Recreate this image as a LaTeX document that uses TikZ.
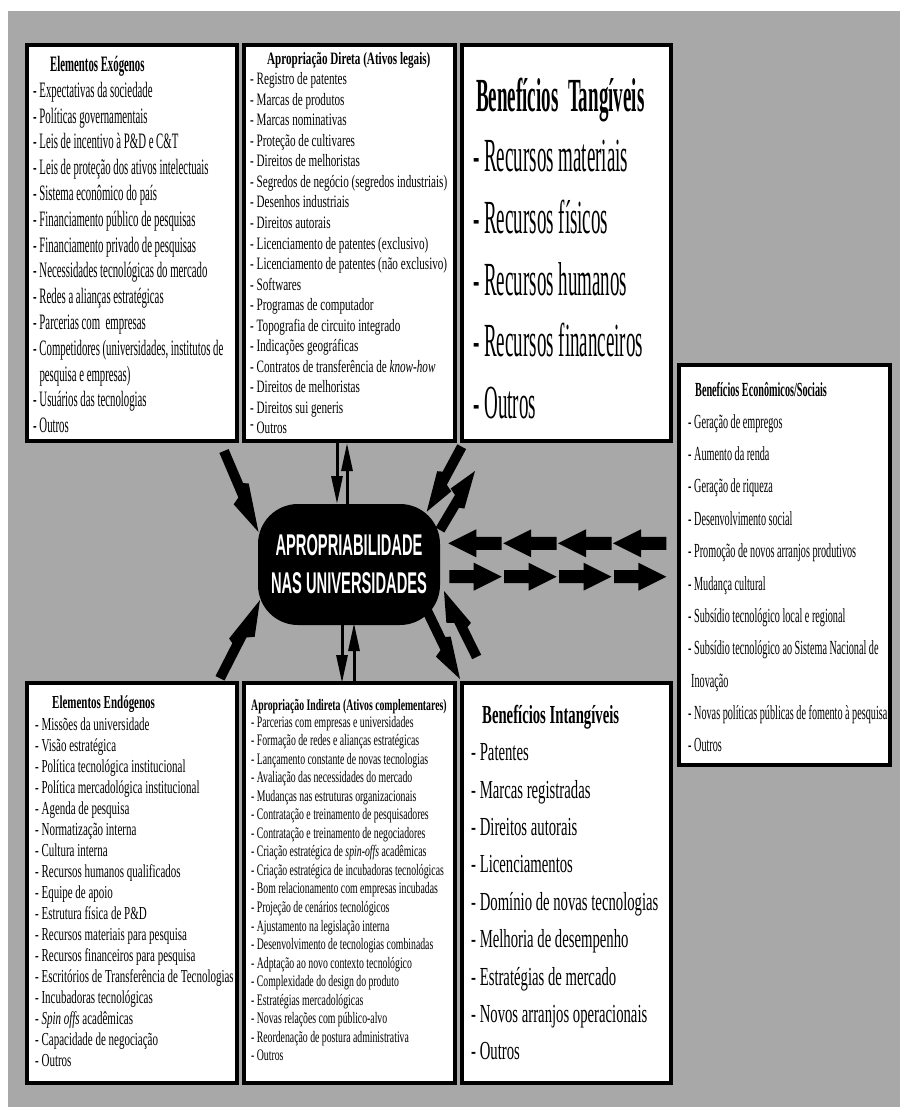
\documentclass[tikz,border=0pt]{standalone}
\usepackage{fontspec}
\setmainfont{Liberation Serif}
\newfontfamily\fExo{Liberation Serif}[FakeStretch=0.49]
\newfontfamily\fDir{Liberation Serif}[FakeStretch=0.64]
\newfontfamily\fTan{Liberation Serif}[FakeStretch=0.40]
\newfontfamily\fEco{Liberation Serif}[FakeStretch=0.51]
\newfontfamily\fEnd{Liberation Serif}[FakeStretch=0.60]
\newfontfamily\fInd{Liberation Serif}[FakeStretch=0.61]
\newfontfamily\fInt{Liberation Serif}[FakeStretch=0.566]
\newfontfamily\fCtr{Liberation Sans}[FakeStretch=0.49]
\usetikzlibrary{calc,arrows.meta}
\definecolor{bggray}{RGB}{168,168,168}
\tikzset{
  box/.style={draw=black, line width=4pt, fill=white, inner sep=0pt, outer sep=0pt},
  txt/.style={inner sep=0pt, anchor=base west},
  exof/.style={txt, font=\fExo\fontsize{22}{26}\selectfont},
  dirf/.style={txt, font=\fDir\fontsize{17.4}{20}\selectfont},
  tanf/.style={txt, font=\fTan\fontsize{47.5}{55}\selectfont},
  ecof/.style={txt, font=\fEco\fontsize{20}{24}\selectfont},
  endf/.style={txt, font=\fEnd\fontsize{18.3}{22}\selectfont},
  indf/.style={txt, font=\fInd\fontsize{16}{19}\selectfont},
  intf/.style={txt, font=\fInt\fontsize{26}{30}\selectfont},
  hub/.style={fill=black, rounded corners=40pt, inner sep=0pt, outer sep=0pt,
    text=white, align=center, font=\fCtr\bfseries\fontsize{30}{38}\selectfont},
  varrow/.style={line width=3pt, -{Triangle[length=28pt,width=11pt]}},
  boltfill/.style={fill=black},
}
% lightning-bolt arrow from #1 (tail) to #2 (tip);
% #3 = side of the later (barb) corner, #4 = the other side (90 / -90)
\newcommand\boltarr[4]{%
  \fill[boltfill] ($(#1)!5pt!#3:(#2)$) -- ($(#1)!0.55!(#2)!5pt!#3:(#2)$)
    -- ($(#1)!0.60!(#2)!12pt!#3:(#2)$) -- (#2)
    -- ($(#1)!0.45!(#2)!10pt!#4:(#2)$) -- ($(#1)!0.42!(#2)!5pt!#4:(#2)$)
    -- ($(#1)!5pt!#4:(#2)$) -- cycle;}
% block arrow from #1 (tail) to #2 (tip)
\newcommand\blockarr[2]{%
  \fill[black] ($(#1)!6.5pt!90:(#2)$) -- ($(#2)!28pt!(#1)!6.5pt!-90:(#1)$)
    -- ($(#2)!28pt!(#1)!14pt!-90:(#1)$) -- (#2)
    -- ($(#2)!28pt!(#1)!14pt!90:(#1)$) -- ($(#2)!28pt!(#1)!6.5pt!90:(#1)$)
    -- ($(#1)!6.5pt!-90:(#2)$) -- cycle;}
\begin{document}
\begin{tikzpicture}[x=1pt,y=-1pt]
\useasboundingbox (0,0) rectangle (900,1107);
\fill[white] (0,0) rectangle (900,1107);
\fill[bggray] (8,11) rectangle (900,1107);

% boxes
\node[box, minimum width=210pt, minimum height=396pt] (exo) at (132,243) {};
\node[box, minimum width=211pt, minimum height=396pt] (dir) at (349.5,243) {};
\node[box, minimum width=209pt, minimum height=396pt] (tan) at (566.5,243) {};
\node[box, minimum width=211pt, minimum height=400pt] (eco) at (784.5,565) {};
\node[box, minimum width=210pt, minimum height=400pt] (endo) at (132,883) {};
\node[box, minimum width=211pt, minimum height=400pt] (ind) at (349.5,883) {};
\node[box, minimum width=209pt, minimum height=400pt] (intg) at (566.5,883) {};

% central node
\node[hub, minimum width=182pt, minimum height=121pt] (ctr) at (349,564.5)
  {APROPRIABILIDADE\\NAS UNIVERSIDADES};

% Elementos Exogenos
\node[exof] (exo-t) at (50,71.7) {\bfseries Elementos Exógenos};
\foreach \t [count=\i from 0] in {{- Expectativas da sociedade},{- Políticas governamentais},
  {- Leis de incentivo à P\&D e C\&T},{- Leis de proteção dos ativos intelectuais},
  {- Sistema econômico do país},{- Financiamento público de pesquisas},
  {- Financiamento privado de pesquisas},{- Necessidades tecnológicas do mercado},
  {- Redes a alianças estratégicas},{- Parcerias com\ \ empresas},
  {- Competidores (universidades, institutos de}}
  \node[exof] (exo-\i) at (33,97.3+\i*25.8) {\t};
\node[exof] (exo-11) at (39.3,97.3+11*25.8) {pesquisa e empresas)};
\node[exof] (exo-12) at (33,97.3+12*25.8) {- Usuários das tecnologias};
\node[exof] (exo-13) at (33,97.3+13*25.8) {- Outros};

% Apropriacao Direta
\node[dirf] (dir-t) at (267,65) {\bfseries Apropriação Direta (Ativos legais)};
\foreach \t [count=\i from 0] in {{- Registro de patentes},{- Marcas de produtos},
  {- Marcas nominativas},{- Proteção de cultivares},{- Direitos de melhoristas},
  {- Segredos de negócio (segredos industriais)},{- Desenhos industriais},
  {- Direitos autorais},{- Licenciamento de patentes (exclusivo)},
  {- Licenciamento de patentes (não exclusivo)},{- Softwares},
  {- Programas de computador},{- Topografia de circuito integrado},
  {- Indicações geográficas},{- Contratos de transferência de \textit{know-how}},
  {- Direitos de melhoristas},{- Direitos sui generis},{\raisebox{4pt}{-} Outros}}
  \node[dirf] (dir-\i) at (250,85+\i*20.5) {\t};

% Beneficios Tangiveis
\node[tanf] (tan-t) at (476,111.7) {\bfseries Benefícios\ \ Tangíveis};
\foreach \t [count=\i from 0] in {{- Recursos materiais},{- Recursos físicos},
  {- Recursos humanos},{- Recursos financeiros},{- Outros}}
  \node[tanf] (tan-\i) at (473,171.7+\i*61.65) {\t};

% Beneficios Economicos/Sociais
\node[ecof] (eco-t) at (695,396.7) {\bfseries Benefícios Econômicos/Sociais};
\foreach \t [count=\i from 0] in {{- Geração de empregos},{- Aumento da renda},
  {- Geração de riqueza},{- Desenvolvimento social},
  {- Promoção de novos arranjos produtivos},{- Mudança cultural},
  {- Subsídio tecnológico local e regional},
  {- Subsídio tecnológico ao Sistema Nacional de}}
  \node[ecof] (eco-\i) at (688,428.3+\i*32.34) {\t};
\node[ecof] (eco-8) at (691,428.3+8*32.34) {Inovação};
\node[ecof] (eco-9) at (688,428.3+9*32.34) {- Novas políticas públicas de fomento à pesquisa};
\node[ecof] (eco-10) at (688,428.3+10*32.34) {- Outros};

% Elementos Endogenos
\node[endf] (endo-t) at (52,708.3) {\bfseries Elementos Endógenos};
\foreach \t [count=\i from 0] in {{- Missões da universidade},{- Visão estratégica},
  {- Política tecnológica institucional},{- Política mercadológica institucional},
  {- Agenda de pesquisa},{- Normatização interna},{- Cultura interna},
  {- Recursos humanos qualificados},{- Equipe de apoio},{- Estrutura física de P\&D},
  {- Recursos materiais para pesquisa},{- Recursos financeiros para pesquisa},
  {- Escritórios de Transferência de Tecnologias},{- Incubadoras tecnológicas},
  {- \textit{Spin offs} acadêmicas},{- Capacidade de negociação},{- Outros}}
  \node[endf] (endo-\i) at (35,730+\i*21.04) {\t};

% Apropriacao Indireta
\node[indf] (ind-t) at (251,710) {\bfseries Apropriação Indireta (Ativos complementares)};
\foreach \t [count=\i from 0] in {{- Parcerias com empresas e universidades},
  {- Formação de redes e alianças estratégicas},{- Lançamento constante de novas tecnologias},
  {- Avaliação das necessidades do mercado},{- Mudanças nas estruturas organizacionais},
  {- Contratação e treinamento de pesquisadores},{- Contratação e treinamento de negociadores},
  {- Criação estratégica de \textit{spin-offs} acadêmicas},
  {- Criação estratégica de incubadoras tecnológicas},
  {- Bom relacionamento com empresas incubadas},{- Projeção de cenários tecnológicos},
  {- Ajustamento na legislação interna},{- Desenvolvimento de tecnologias combinadas},
  {- Adptação ao novo contexto tecnológico},{- Complexidade do design do produto},
  {- Estratégias mercadológicas},{- Novas relações com público-alvo},
  {- Reordenação de postura administrativa},{- Outros}}
  \node[indf] (ind-\i) at (251,727.3+\i*18.52) {\t};

% Beneficios Intangiveis
\node[intf] (intg-t) at (482,723.3) {\bfseries Benefícios Intangíveis};
\foreach \t [count=\i from 0] in {{- Patentes},{- Marcas registradas},{- Direitos autorais},
  {- Licenciamentos},{- Domínio de novas tecnologias},{- Melhoria de desempenho},
  {- Estratégias de mercado},{- Novos arranjos operacionais},{- Outros}}
  \node[intf] (intg-\i) at (471,760.7+\i*37.4) {\t};

% straight vertical arrows (Direta / Indireta <-> centre)
\draw[varrow] ([xshift=-12.5pt]dir.south) -- ([xshift=-12.5pt]dir.south |- ctr.north);
\draw[varrow] ([xshift=-2.5pt]dir.south |- ctr.north) -- ([xshift=-2.5pt,yshift=-2pt]dir.south);
\draw[varrow] ([xshift=-7.5pt]ind.north |- ctr.south) -- ([xshift=-7.5pt]ind.north);
\draw[varrow] ([xshift=4.5pt]ind.north) -- ([xshift=4.5pt,yshift=2pt]ind.north |- ctr.south);

% lightning arrows
\coordinate (b1s) at (224,451);   \coordinate (b1e) at (258.5,532);
\coordinate (b2s) at (461.7,446.7); \coordinate (b2e) at (426.7,511.7);
\coordinate (b3s) at (440,530);   \coordinate (b3e) at (475,471);
\coordinate (b4s) at (426.7,610); \coordinate (b4e) at (460,679);
\coordinate (b5s) at (476.7,657); \coordinate (b5e) at (444,591);
\coordinate (b6s) at (220,678.3); \coordinate (b6e) at (260,600);
\boltarr{b1s}{b1e}{-90}{90}
\boltarr{b2s}{b2e}{90}{-90}
\boltarr{b3s}{b3e}{90}{-90}
\boltarr{b4s}{b4e}{-90}{90}
\boltarr{b5s}{b5e}{90}{-90}
\boltarr{b6s}{b6e}{-90}{90}

% block arrows centre <-> Economicos/Sociais
\foreach \k in {0,1,2,3} {
  \coordinate (lt\k) at (501.7+\k*54.9,543.3);
  \coordinate (lh\k) at (448.3+\k*54.9,543.3);
  \coordinate (rt\k) at (449.3+\k*54.9,576.7);
  \coordinate (rh\k) at (501.7+\k*54.9,576.7);
  \blockarr{lt\k}{lh\k}
  \blockarr{rt\k}{rh\k}
}
\end{tikzpicture}
\end{document}
